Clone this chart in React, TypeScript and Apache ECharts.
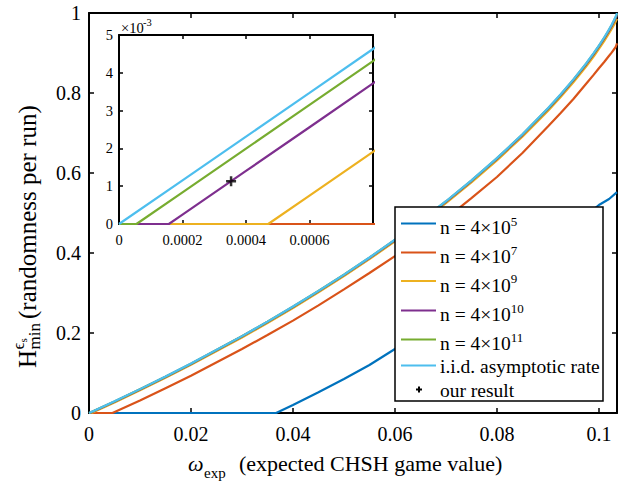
import React, { useEffect, useRef } from "react";
import * as echarts from "echarts";

const FONT = "Liberation Serif";

// ---------- data (x = omega_exp offset, y = randomness per run) ----------
const iidX = [0, 0.0002, 0.0004, 0.0006, 0.0008, 0.005, 0.01, 0.015, 0.02, 0.03, 0.035, 0.04, 0.045, 0.05, 0.055, 0.06, 0.065, 0.07, 0.075, 0.08, 0.085, 0.09, 0.0925, 0.095, 0.0975, 0.099, 0.1, 0.101, 0.102, 0.1025, 0.103, 0.1033, 0.1034, 0.10355];
const iidY = [0, 0.001155, 0.002311, 0.003469, 0.004629, 0.02934, 0.05969, 0.09109, 0.1236, 0.1922, 0.2285, 0.2661, 0.3053, 0.3461, 0.3887, 0.4333, 0.4802, 0.5294, 0.5816, 0.6371, 0.6968, 0.7617, 0.7967, 0.834, 0.8742, 0.9001, 0.9186, 0.9381, 0.9592, 0.9707, 0.9832, 0.9915, 0.9945, 0.9999];

const n4e11X = [0, 0.000055, 0.0002, 0.0004, 0.0006, 0.0008, 0.005, 0.01, 0.015, 0.02, 0.03, 0.035, 0.04, 0.045, 0.05, 0.055, 0.06, 0.065, 0.07, 0.075, 0.08, 0.085, 0.09, 0.0925, 0.095, 0.0975, 0.099, 0.1, 0.101, 0.102, 0.1025, 0.103, 0.1033, 0.10355];
const n4e11Y = [0, 0, 0.000837, 0.001993, 0.003151, 0.00431, 0.02902, 0.05935, 0.09074, 0.1232, 0.1918, 0.2281, 0.2657, 0.3049, 0.3456, 0.3883, 0.4328, 0.4796, 0.5288, 0.581, 0.6365, 0.6961, 0.7609, 0.7959, 0.8331, 0.8732, 0.8991, 0.9175, 0.937, 0.958, 0.9694, 0.9818, 0.99, 0.9979];

const n4e10X = [0, 0.000157, 0.0002, 0.0004, 0.0006, 0.0008, 0.005, 0.01, 0.015, 0.02, 0.03, 0.035, 0.04, 0.045, 0.05, 0.055, 0.06, 0.065, 0.07, 0.075, 0.08, 0.085, 0.09, 0.0925, 0.095, 0.0975, 0.099, 0.1, 0.101, 0.102, 0.1025, 0.103, 0.1033, 0.10355];
const n4e10Y = [0, 0, 0.000248, 0.001403, 0.00256, 0.003719, 0.02841, 0.05873, 0.0901, 0.1226, 0.1911, 0.2273, 0.2649, 0.304, 0.3448, 0.3874, 0.4319, 0.4786, 0.5278, 0.5799, 0.6353, 0.6948, 0.7595, 0.7944, 0.8315, 0.8714, 0.8972, 0.9157, 0.935, 0.9559, 0.9671, 0.9792, 0.9871, 0.9943];

const n4e9X = [0, 0.00047, 0.0006, 0.0008, 0.005, 0.01, 0.015, 0.02, 0.03, 0.035, 0.04, 0.045, 0.05, 0.055, 0.06, 0.065, 0.07, 0.075, 0.08, 0.085, 0.09, 0.0925, 0.095, 0.0975, 0.099, 0.1, 0.101, 0.102, 0.1025, 0.103, 0.1033, 0.10355];
const n4e9Y = [0, 0, 0.00075, 0.001907, 0.02654, 0.05679, 0.0881, 0.1205, 0.1889, 0.225, 0.2625, 0.3015, 0.3421, 0.3846, 0.429, 0.4756, 0.5246, 0.5765, 0.6317, 0.6909, 0.7553, 0.7897, 0.8265, 0.866, 0.8914, 0.9102, 0.9289, 0.9493, 0.9599, 0.9714, 0.9789, 0.9854];

const n4e7X = [0, 0.0046, 0.01, 0.015, 0.02, 0.03, 0.035, 0.04, 0.045, 0.05, 0.055, 0.06, 0.065, 0.07, 0.075, 0.08, 0.085, 0.09, 0.0925, 0.095, 0.0975, 0.099, 0.1, 0.101, 0.102, 0.1025, 0.1033, 0.10355];
const n4e7Y = [0, 0, 0.031, 0.062, 0.093, 0.16, 0.195, 0.231, 0.269, 0.309, 0.35, 0.392, 0.438, 0.486, 0.537, 0.59, 0.65, 0.716, 0.75, 0.785, 0.823, 0.846, 0.862, 0.877, 0.893, 0.901, 0.915, 0.924];

const n4e5X = [0, 0.0367, 0.04, 0.045, 0.05, 0.055, 0.06, 0.07, 0.08, 0.09, 0.095, 0.1, 0.102, 0.10355];
const n4e5Y = [0, 0, 0.02, 0.052, 0.085, 0.12, 0.16, 0.245, 0.33, 0.42, 0.468, 0.52, 0.535, 0.552];

const ourResult: [number, number] = [0.000353, 0.00113];

const mainXRange = [0, 0.10355];
const mainYRange = [0, 1];
const insetXRange = [0, 0.0008];
const insetYRange = [0, 0.005];

const legendExps = ["5", "7", "9", "10", "11"];
const seriesNames = ["n = 4×10^5", "n = 4×10^7", "n = 4×10^9", "n = 4×10^10", "n = 4×10^11", "i.i.d. asymptotic rate"];
const colors = ["#0072BD", "#D95319", "#EDB120", "#7E2F8E", "#77AC30", "#4DBEEE"];

const zip = (xs: number[], ys: number[]) => xs.map((x, i) => [x, ys[i]]);
const allSeries = [
  zip(n4e5X, n4e5Y),
  zip(n4e7X, n4e7Y),
  zip(n4e9X, n4e9Y),
  zip(n4e10X, n4e10Y),
  zip(n4e11X, n4e11Y),
  zip(iidX, iidY),
];

const fmt = (v: number) => String(+v.toPrecision(6));

function xAxis(gridIndex: number, range: number[], interval: number, position: string, labels: boolean, fontSize: number, margin: number, tickLen: number) {
  return {
    type: "value",
    gridIndex,
    position,
    min: range[0],
    max: range[1],
    interval,
    z: 3,
    axisLine: { show: true, onZero: false, lineStyle: { color: "#000", width: 2 } },
    axisTick: { show: true, inside: true, length: tickLen, lineStyle: { color: "#000", width: 1.5 } },
    axisLabel: { show: labels, color: "#000", fontSize, fontFamily: FONT, margin, showMaxLabel: false, formatter: fmt },
    splitLine: { show: false },
  };
}
function yAxis(gridIndex: number, range: number[], interval: number, position: string, labels: boolean, fontSize: number, margin: number, tickLen: number, scale: number) {
  return {
    type: "value",
    gridIndex,
    position,
    min: range[0],
    max: range[1],
    interval,
    z: 3,
    axisLine: { show: true, onZero: false, lineStyle: { color: "#000", width: 2 } },
    axisTick: { show: true, inside: true, length: tickLen, lineStyle: { color: "#000", width: 1.5 } },
    axisLabel: { show: labels, color: "#000", fontSize, fontFamily: FONT, margin, formatter: (v: number) => fmt(v * scale) },
    splitLine: { show: false },
  };
}

const legendBox = { x: 395, y: 207, w: 208, h: 194 };
const legendRowY = [223.5, 252.5, 281, 310.5, 339.5, 365.5, 389.5];

function buildGraphic() {
  const g: any[] = [];
  g.push({
    type: "rect",
    z: 100,
    shape: { x: legendBox.x, y: legendBox.y, width: legendBox.w, height: legendBox.h },
    style: { fill: "#fff", stroke: "#000", lineWidth: 1.5 },
  });
  for (let i = 0; i < 6; i++) {
    g.push({
      type: "line",
      z: 101,
      shape: { x1: 401, y1: legendRowY[i], x2: 436, y2: legendRowY[i] },
      style: { stroke: colors[i], lineWidth: 2.2 },
    });
    const text = i < 5 ? `{m|n = 4×10}{s|${legendExps[i]}}` : "{m|i.i.d. asymptotic rate}";
    g.push({
      type: "text",
      z: 101,
      x: 440,
      y: legendRowY[i] + (i < 5 ? 4 : 1),
      style: {
        text,
        verticalAlign: "middle",
        align: "left",
        rich: {
          m: { fontSize: 19.5, fontFamily: FONT, fill: "#000", lineHeight: 26 },
          s: { fontSize: 13, fontFamily: FONT, fill: "#000", lineHeight: 12, verticalAlign: "top" },
        },
      },
    });
  }
  const py = legendRowY[6];
  g.push({ type: "rect", z: 101, shape: { x: 416, y: py - 1, width: 6, height: 2 }, style: { fill: "#000" } });
  g.push({ type: "rect", z: 101, shape: { x: 418, y: py - 3, width: 2, height: 6 }, style: { fill: "#000" } });
  g.push({
    type: "text",
    z: 101,
    x: 440,
    y: py + 1,
    style: { text: "our result", fontSize: 19.5, fontFamily: FONT, fill: "#000", verticalAlign: "middle", align: "left" },
  });

  // x axis title
  g.push({ type: "text", x: 188, y: 463, style: { text: "ω", fontSize: 22, fontStyle: "italic", fontFamily: FONT, fill: "#000", verticalAlign: "middle" } });
  g.push({ type: "text", x: 204, y: 473, style: { text: "exp", fontSize: 15, fontFamily: FONT, fill: "#000", verticalAlign: "middle" } });
  g.push({ type: "text", x: 239, y: 463, style: { text: "(expected CHSH game value)", fontSize: 22, fontFamily: FONT, fill: "#000", verticalAlign: "middle" } });

  // y axis title (rotated)
  g.push({
    type: "group",
    x: 27,
    y: 368,
    rotation: Math.PI / 2,
    children: [
      { type: "text", x: 0, y: 0, style: { text: "H", fontSize: 25, fontFamily: FONT, fill: "#000", verticalAlign: "middle" } },
      { type: "text", x: 18.5, y: -9, style: { text: "ϵ", fontSize: 17, fontFamily: FONT, fill: "#000", verticalAlign: "middle" } },
      { type: "text", x: 25.5, y: -4.5, style: { text: "s", fontSize: 11, fontFamily: FONT, fill: "#000", verticalAlign: "middle" } },
      { type: "text", x: 18.5, y: 7, style: { text: "min", fontSize: 17, fontFamily: FONT, fill: "#000", verticalAlign: "middle" } },
      { type: "text", x: 49, y: 0, style: { text: "(randomness per run)", fontSize: 25, fontFamily: FONT, fill: "#000", verticalAlign: "middle" } },
    ],
  });

  // inset exponent
  g.push({ type: "text", x: 121, y: 28, style: { text: "×10", fontSize: 14.5, fontFamily: FONT, fill: "#000", verticalAlign: "middle" } });
  g.push({ type: "text", x: 143, y: 22, style: { text: "-3", fontSize: 10.5, fontFamily: FONT, fill: "#000", verticalAlign: "middle" } });
  return g;
}

const plusPath = "path://M3.75,0 H6.25 V3.75 H10 V6.25 H6.25 V10 H3.75 V6.25 H0 V3.75 H3.75 Z";

function buildOption() {
  const series: any[] = [];
  [0, 1].forEach((gi) => {
    allSeries.forEach((data, i) => {
      series.push({
        type: "line",
        name: seriesNames[i],
        xAxisIndex: gi * 2,
        yAxisIndex: gi * 2,
        data,
        showSymbol: false,
        symbol: "none",
        clip: true,
        lineStyle: { color: colors[i], width: 2.2 },
        itemStyle: { color: colors[i] },
        z: gi === 0 ? 4 + i * 0.01 : 10 + i * 0.01,
      });
    });
  });
  series.push({
    type: "scatter",
    name: "our result",
    xAxisIndex: 2,
    yAxisIndex: 2,
    data: [ourResult],
    symbol: plusPath,
    symbolSize: 10,
    itemStyle: { color: "#000" },
    z: 20,
  });
  return {
    animation: false,
    backgroundColor: "#fff",
    grid: [
      { left: 89, top: 13, width: 528, height: 400, show: false },
      { left: 119, top: 35, width: 254, height: 189, show: true, backgroundColor: "#fff", borderWidth: 0, z: 1 },
    ],
    xAxis: [
      xAxis(0, mainXRange, 0.02, "bottom", true, 20, 11, 5),
      xAxis(0, mainXRange, 0.02, "top", false, 20, 11, 5),
      xAxis(1, insetXRange, 0.0002, "bottom", true, 14.5, 8, 4),
      xAxis(1, insetXRange, 0.0002, "top", false, 14.5, 8, 4),
    ],
    yAxis: [
      yAxis(0, mainYRange, 0.2, "left", true, 20, 8, 5, 1),
      yAxis(0, mainYRange, 0.2, "right", false, 20, 8, 5, 1),
      yAxis(1, insetYRange, 0.001, "left", true, 14.5, 6, 4, 1000),
      yAxis(1, insetYRange, 0.001, "right", false, 14.5, 6, 4, 1000),
    ],
    series,
    graphic: buildGraphic(),
  };
}

export default function App() {
  const ref = useRef<HTMLDivElement>(null);
  useEffect(() => {
    if (!ref.current) return;
    const chart = echarts.init(ref.current, null, { renderer: "svg", width: 628, height: 482 });
    chart.setOption(buildOption() as any);
    return () => chart.dispose();
  }, []);
  return (
    <div
      ref={ref}
      style={{ position: "fixed", left: 0, top: 0, width: 628, height: 482, background: "#fff" }}
    />
  );
}
